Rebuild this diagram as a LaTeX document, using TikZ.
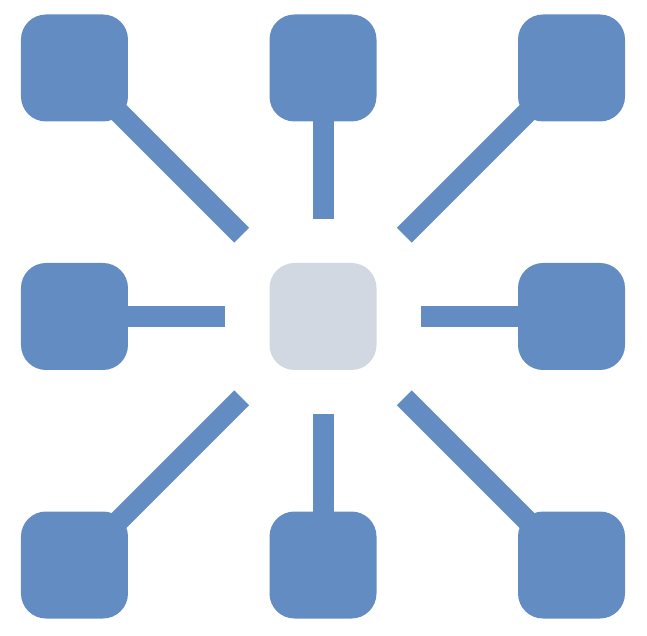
\documentclass[tikz,border=0pt]{standalone}
\usetikzlibrary{calc,backgrounds}
\definecolor{hubblue}{HTML}{638DC2}
\definecolor{hubgray}{HTML}{D2D8E2}
\tikzset{
  leaf/.style={fill=hubblue, minimum size=107pt, rounded corners=25pt, inner sep=0pt},
  hub/.style={fill=hubgray, minimum size=107pt, rounded corners=25pt, inner sep=0pt},
  spoke/.style={draw=hubblue, line width=21pt, line cap=butt}
}
\begin{document}
\begin{tikzpicture}[x=248.5pt, y=248.5pt]
  \useasboundingbox (-323pt,-319.5pt) rectangle (324pt,316.5pt);

  \node [hub] (hub) at (0,0) {};
  \foreach \name/\col/\row in {nw/-1/1, n/0/1, ne/1/1, w/-1/0, e/1/0, sw/-1/-1, s/0/-1, se/1/-1}
    \node [leaf] (\name) at (\col,\row) {};

  % spokes run from each leaf towards the hub and stop short of it
  \begin{scope}[on background layer]
    \foreach \name in {n,w,e,s}
      \draw [spoke] (\name.center) -- ($(hub)!97.5pt!(\name)$) coordinate (\name-end);
    \foreach \name in {nw,ne,sw,se}
      \draw [spoke] (\name.center) -- ($(hub)!115pt!(\name)$) coordinate (\name-end);
  \end{scope}
\end{tikzpicture}
\end{document}
